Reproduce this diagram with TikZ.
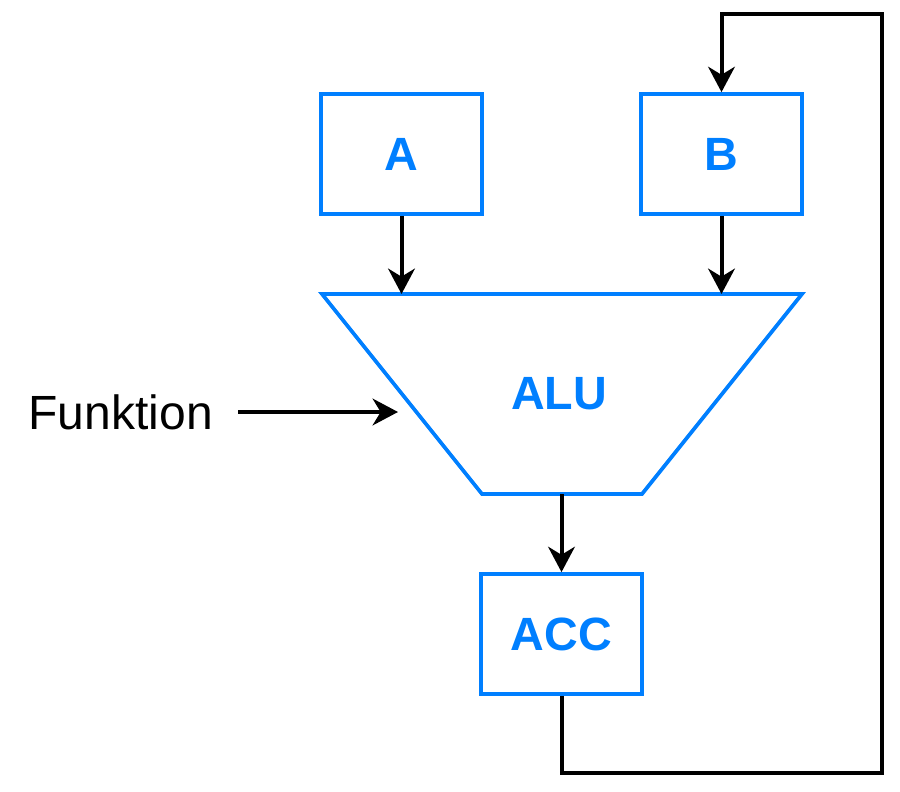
\documentclass[tikz,border=0pt]{standalone}
\usepackage{fontspec}
\setmainfont{Liberation Sans}
\usetikzlibrary{arrows.meta}
\definecolor{myblue}{HTML}{007FFF}
\begin{document}
\begin{tikzpicture}[x=0.75pt,y=-0.75pt,
  regbox/.style={draw=myblue,line width=2.8pt,minimum width=120.75pt,minimum height=90pt,inner sep=0pt,
    text=myblue,font=\fontsize{35}{38}\selectfont\bfseries},
  conn/.style={line width=3pt,-{Stealth[length=19pt,width=20pt,inset=6pt]}}]
\useasboundingbox (0,0) rectangle (900,792);
\node[regbox] (A) at (401.5,154) {A};
\node[regbox] (B) at (721.5,154) {B};
\node[regbox] (ACC) at (561.5,634) {ACC};
\draw[draw=myblue,line width=2.8pt,line join=miter] (322,294) coordinate (alutl) -- (802,294) coordinate (alutr) -- (642,494) coordinate (alubr) -- (482,494) coordinate (alubl) -- cycle;
\node[text=myblue,font=\fontsize{35}{38}\selectfont\bfseries] (ALU) at (559,394) {ALU};
\coordinate (aluinA) at (401.5,294);
\coordinate (aluinB) at (721.5,294);
\coordinate (aluout) at (561.5,494);
\coordinate (aluf) at (398,412);
\node[font=\fontsize{36}{38}\selectfont,anchor=east,inner sep=0pt] (F) at (213,412) {Funktion};
\coordinate (fstart) at (238,412);
\draw[conn] (A.south) -- (aluinA);
\draw[conn] (B.south) -- (aluinB);
\draw[conn] (aluout) -- (ACC.north);
\draw[conn] (fstart) -- (aluf);
\coordinate (c1) at (561.5,773);
\coordinate (c2) at (881.5,773);
\coordinate (c3) at (881.5,14);
\coordinate (c4) at (721.5,14);
\draw[conn,line join=miter] (ACC.south) -- (c1) -- (c2) -- (c3) -- (c4) -- (B.north);
\end{tikzpicture}
\end{document}
